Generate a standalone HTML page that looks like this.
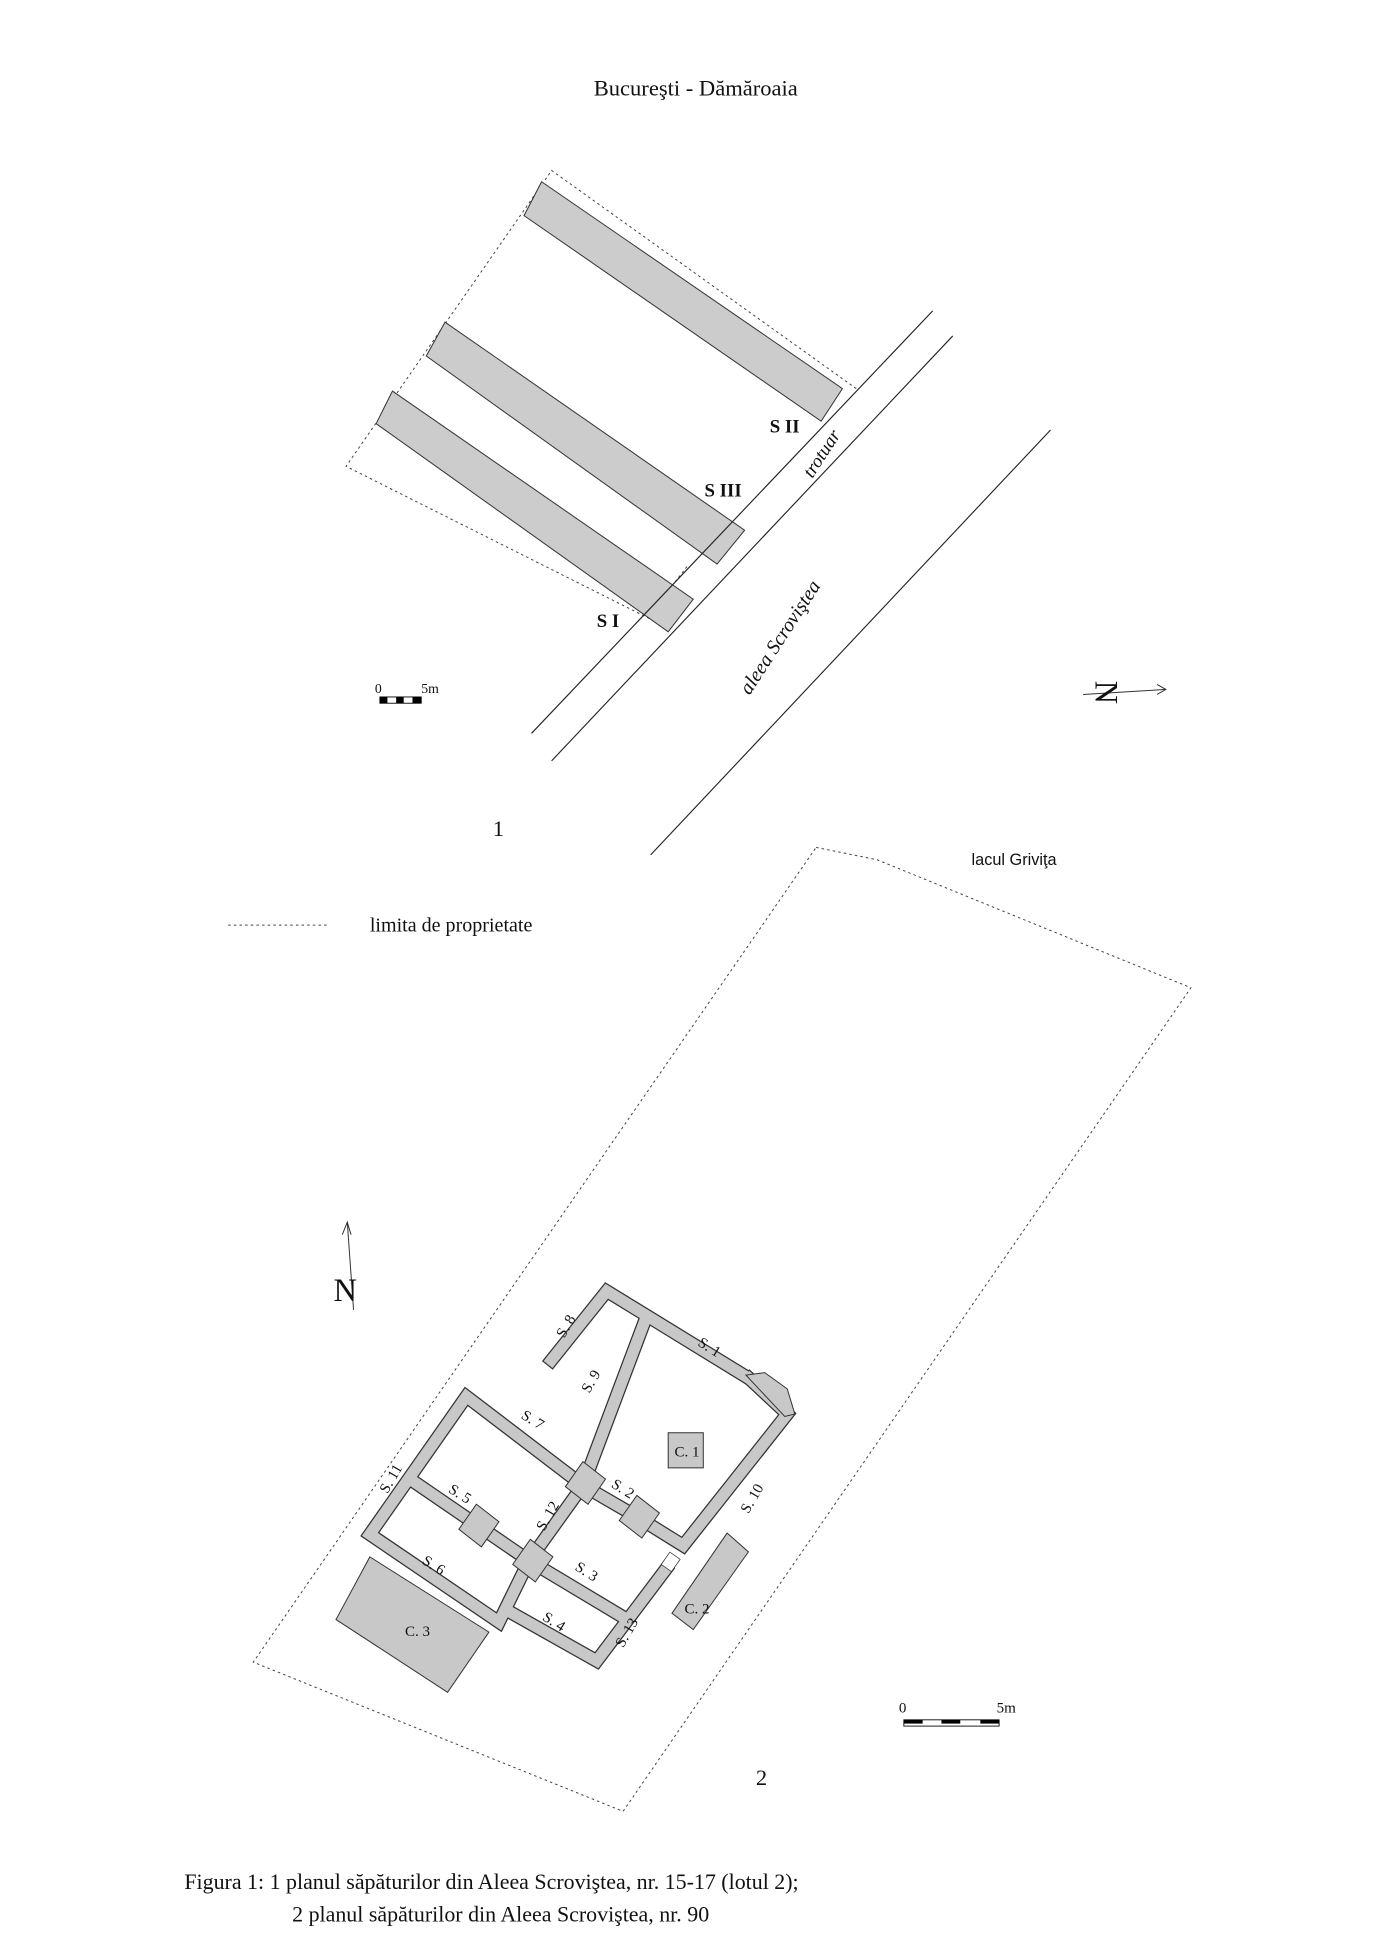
<!DOCTYPE html>
<html><head><meta charset="utf-8"><style>
html,body{margin:0;padding:0;background:#fff}
svg{display:block}
text{font-family:"Liberation Serif",serif;fill:#111}
</style></head><body>
<svg width="1379" height="1958" viewBox="0 0 1100 1562" xmlns="http://www.w3.org/2000/svg">
<text x="555" y="76" font-size="18" text-anchor="middle">Bucureşti - Dămăroaia</text>

<!-- plan 1 -->
<g stroke="#444" stroke-width="0.8" fill="none" stroke-dasharray="2,2.5">
<polyline points="683,310 440,136 276,372 535,502"/>
<line x1="548" y1="452" x2="520" y2="488"/>
</g>
<g fill="#cccccc" stroke="#333" stroke-width="0.8">
<polygon points="432,145 672,310 655,336 418,172"/>
<polygon points="355,257 594,423 572,450 340,284"/>
<polygon points="313,312 553,478 533,504 300,338"/>
</g>
<g stroke="#222" stroke-width="0.9">
<line x1="744" y1="248" x2="424" y2="585"/>
<line x1="760" y1="268" x2="440" y2="607"/>
<line x1="838" y1="343" x2="519" y2="682"/>
</g>
<g font-weight="bold" font-size="15">
<text x="614" y="345">S II</text>
<text x="562" y="396">S III</text>
<text x="476" y="500">S I</text>
</g>
<text transform="translate(648,382) rotate(-57)" font-size="15" font-style="italic">trotuar</text>
<text transform="translate(598,555) rotate(-57)" font-size="16" font-style="italic">aleea Scroviştea</text>
<text x="299" y="553" font-size="11">0</text><text x="336" y="553" font-size="11">5m</text>
<rect x="303" y="556" width="33" height="5" fill="#fff" stroke="#000" stroke-width="0.7"/>
<rect x="303" y="556" width="6" height="5" fill="#000"/><rect x="316" y="556" width="6" height="5" fill="#000"/><rect x="329" y="556" width="7" height="5" fill="#000"/>
<line x1="864" y1="554" x2="930" y2="550" stroke="#333" stroke-width="0.8"/>
<polyline points="923,546 930,550 923,554" fill="none" stroke="#333" stroke-width="0.8"/>
<text transform="translate(874,543) rotate(90)" font-size="26">N</text>
<text x="393" y="667" font-size="18">1</text>
<text x="775" y="690" style="font-family:'Liberation Sans',sans-serif;font-size:13px">lacul Griviţa</text>
<line x1="182" y1="738" x2="262" y2="738" stroke="#444" stroke-width="0.8" stroke-dasharray="2,2.5"/>
<text x="295" y="743" font-size="16">limita de proprietate</text>

<!-- plan 2 -->
<polygon points="651,676 700,686 950,788 497,1445 202,1326" fill="none" stroke="#444" stroke-width="0.8" stroke-dasharray="2,2.5"/>
<line x1="277" y1="975" x2="282" y2="1045" stroke="#333" stroke-width="0.8"/>
<polyline points="273,985 277,975 280,985" fill="none" stroke="#333" stroke-width="0.8"/>
<text x="266" y="1038" font-size="26">N</text>

<g fill="none" stroke-linejoin="miter" stroke-linecap="square">
<g stroke="#333" stroke-width="11">
<polyline points="440,1085 484,1030 598,1100"/>
<polyline points="598,1100 628,1128 545,1233 508,1210"/>
<polyline points="515,1052 465,1185 422,1245 398,1294 295,1224 372,1114 465,1185"/>
<line x1="333" y1="1184" x2="422" y2="1245"/>
<line x1="422" y1="1245" x2="497" y2="1290"/>
<polyline points="405,1285 476,1325 531,1252"/>
<line x1="465" y1="1185" x2="508" y2="1210"/>
</g>
<g stroke="#c8c8c8" stroke-width="9">
<polyline points="440,1085 484,1030 598,1100"/>
<polyline points="598,1100 628,1128 545,1233 508,1210"/>
<polyline points="515,1052 465,1185 422,1245 398,1294 295,1224 372,1114 465,1185"/>
<line x1="333" y1="1184" x2="422" y2="1245"/>
<line x1="422" y1="1245" x2="497" y2="1290"/>
<polyline points="405,1285 476,1325 531,1252"/>
<line x1="465" y1="1185" x2="508" y2="1210"/>
</g>
</g>
<g fill="#c8c8c8" stroke="#333" stroke-width="0.8">
<polygon points="595,1097 610,1095 628,1108 634,1128 626,1130"/>
<polygon points="465,1166 483,1180 469,1200 451,1186"/>
<polygon points="508,1193 526,1207 512,1227 494,1213"/>
<polygon points="380,1200 398,1214 384,1234 366,1220"/>
<polygon points="423,1228 441,1242 427,1262 409,1248"/>
<polygon points="533,1143 561,1143 561,1171 533,1171"/>
<polygon points="580,1223 597,1238 553,1300 536,1287"/>
<polygon points="295,1242 390,1302 357,1350 268,1292"/>
</g>
<rect x="530" y="1240" width="10" height="12" fill="#fff" stroke="#333" stroke-width="0.6" transform="rotate(35 535 1246)"/>
<g font-size="12">
<text transform="translate(450,1068) rotate(-60)">S. 8</text>
<text transform="translate(556,1073) rotate(32)">S. 1</text>
<text transform="translate(470,1112) rotate(-60)">S. 9</text>
<text transform="translate(415,1131) rotate(32)">S. 7</text>
<text transform="translate(309,1192) rotate(-60)">S. 11</text>
<text transform="translate(357,1190) rotate(32)">S. 5</text>
<text transform="translate(434,1222) rotate(-60)">S. 12</text>
<text transform="translate(487,1186) rotate(32)">S. 2</text>
<text transform="translate(597,1208) rotate(-60)">S. 10</text>
<text transform="translate(336,1247) rotate(32)">S. 6</text>
<text transform="translate(458,1252) rotate(32)">S. 3</text>
<text transform="translate(432,1292) rotate(32)">S. 4</text>
<text transform="translate(497,1315) rotate(-60)">S. 13</text>
<text x="538" y="1162">C. 1</text>
<text x="546" y="1287">C. 2</text>
<text x="323" y="1305">C. 3</text>
</g>
<text x="717" y="1366" font-size="12">0</text><text x="795" y="1366" font-size="12">5m</text>
<rect x="721" y="1372" width="76" height="5" fill="#fff" stroke="#000" stroke-width="0.7"/>
<rect x="721" y="1372" width="15" height="3" fill="#000"/><rect x="751" y="1372" width="15" height="3" fill="#000"/><rect x="782" y="1372" width="15" height="3" fill="#000"/>
<text x="603" y="1424" font-size="18">2</text>

<text x="147" y="1507" font-size="17.5">Figura 1: 1 planul săpăturilor din Aleea Scroviştea, nr. 15-17 (lotul 2);</text>
<text x="233" y="1533" font-size="17.5">2 planul săpăturilor din Aleea Scroviştea, nr. 90</text>
</svg>
</body></html>
